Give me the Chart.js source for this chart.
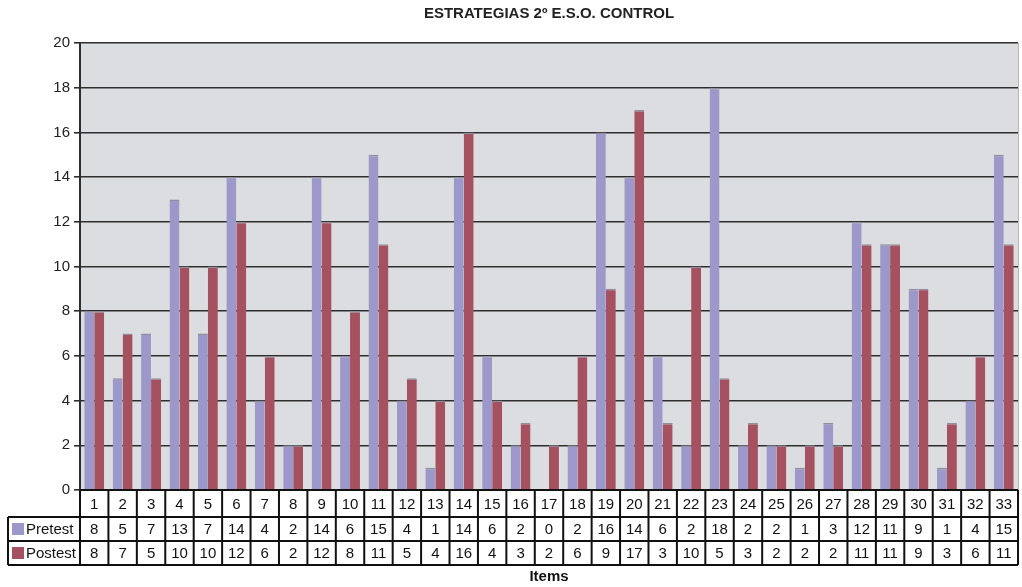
<!DOCTYPE html>
<html>
<head>
<meta charset="utf-8">
<script src="https://cdn.jsdelivr.net/npm/chart.js@4/dist/chart.umd.min.js"></script>
<style>
  html, body { margin: 0; padding: 0; background: #ffffff; }
  #wrap { width: 1022px; height: 587px; }
</style>
</head>
<body>
<div id="wrap"><canvas id="c" width="1022" height="587"></canvas></div>
<script>
const items = ['1','2','3','4','5','6','7','8','9','10','11','12','13','14','15','16','17','18','19','20','21','22','23','24','25','26','27','28','29','30','31','32','33'];
const pretest = [8,5,7,13,7,14,4,2,14,6,15,4,1,14,6,2,0,2,16,14,6,2,18,2,2,1,3,12,11,9,1,4,15];
const postest = [8,7,5,10,10,12,6,2,12,8,11,5,4,16,4,3,2,6,9,17,3,10,5,3,2,2,2,11,11,9,3,6,11];
const yTicks = [0,2,4,6,8,10,12,14,16,18,20];

const titleText = 'ESTRATEGIAS 2º E.S.O. CONTROL';
const xTitle = 'Items';
const seriesNames = ['Pretest', 'Postest'];
const colors = ['#9c98ca', '#a6515f'];

const FONT = '"Liberation Sans", Arial, sans-serif';

// Plot background, title, and the data table under the x axis
const decor = {
  id: 'decor',
  beforeDraw(chart) {
    const { ctx, chartArea: a } = chart;
    ctx.save();
    ctx.fillStyle = '#dcdde0';
    ctx.fillRect(a.left, a.top, a.right - a.left, a.bottom - a.top);
    ctx.strokeStyle = '#b8b8b8';
    ctx.lineWidth = 1;
    ctx.beginPath();
    ctx.moveTo(a.right + 0.5, a.top);
    ctx.lineTo(a.right + 0.5, a.bottom);
    ctx.stroke();
    ctx.restore();
  },
  afterDraw(chart) {
    const { ctx, chartArea: a } = chart;
    const x = chart.scales.x;
    const n = items.length;
    const step = (a.right - a.left) / n;
    const r0 = a.bottom, r1 = r0 + 27, r2 = r1 + 24, r3 = r2 + 24;
    const leftEdge = 8;
    ctx.save();

    // title
    ctx.fillStyle = '#222';
    ctx.font = 'bold 15px ' + FONT;
    ctx.textAlign = 'center';
    ctx.textBaseline = 'middle';
    ctx.fillText(titleText, (a.left + a.right) / 2, 14);

    // table grid
    ctx.strokeStyle = '#111';
    ctx.lineWidth = 2;
    ctx.beginPath();
    ctx.moveTo(a.left, r0); ctx.lineTo(a.right, r0);
    [r1, r2, r3].forEach(y => { ctx.moveTo(leftEdge, y); ctx.lineTo(a.right, y); });
    ctx.moveTo(leftEdge, r1); ctx.lineTo(leftEdge, r3);
    for (let i = 0; i <= n; i++) {
      const xx = a.left + i * step;
      ctx.moveTo(xx, r0); ctx.lineTo(xx, r3);
    }
    ctx.stroke();

    // table text
    ctx.font = '15px ' + FONT;
    ctx.fillStyle = '#111';
    ctx.textAlign = 'center';
    for (let i = 0; i < n; i++) {
      const cx = x.getPixelForValue(i);
      ctx.fillText(items[i], cx, (r0 + r1) / 2 + 1);
      ctx.fillText(String(pretest[i]), cx, (r1 + r2) / 2 + 1);
      ctx.fillText(String(postest[i]), cx, (r2 + r3) / 2 + 1);
    }

    // legend keys in the row headers
    [[r1, r2], [r2, r3]].forEach((rr, k) => {
      const cy = (rr[0] + rr[1]) / 2;
      ctx.fillStyle = colors[k];
      ctx.fillRect(12, cy - 6, 12, 12);
      ctx.fillStyle = '#111';
      ctx.textAlign = 'left';
      ctx.fillText(seriesNames[k], 26, cy + 1);
    });

    // axis title
    ctx.font = 'bold 15px ' + FONT;
    ctx.textAlign = 'center';
    ctx.fillText(xTitle, (a.left + a.right) / 2, 577);
    ctx.restore();
  }
};

new Chart(document.getElementById('c'), {
  type: 'bar',
  data: {
    labels: items,
    datasets: [
      { label: seriesNames[0], data: pretest, backgroundColor: colors[0],
        borderColor: '#8e8e9e', borderWidth: { top: 1.5, left: 0, right: 0, bottom: 0 }, borderSkipped: 'start' },
      { label: seriesNames[1], data: postest, backgroundColor: colors[1],
        borderColor: '#8e8e9e', borderWidth: { top: 1.5, left: 0, right: 0, bottom: 0 }, borderSkipped: 'start' }
    ]
  },
  options: {
    responsive: false,
    animation: false,
    devicePixelRatio: 1,
    layout: { padding: { top: 43, right: 4, bottom: 97, left: 0 } },
    datasets: { bar: { categoryPercentage: 0.7, barPercentage: 1.0 } },
    plugins: {
      legend: { display: false },
      title: { display: false },
      tooltip: { enabled: false }
    },
    scales: {
      x: {
        display: false,
        offset: true,
        grid: { display: false }
      },
      y: {
        min: 0, max: 20,
        afterFit(s) { s.width = 80; },
        afterBuildTicks(s) { s.ticks = yTicks.map(v => ({ value: v })); },
        ticks: { stepSize: 2, color: '#222', font: { family: FONT, size: 15 }, padding: 4 },
        grid: { color: '#2e2e2e', lineWidth: 1.6, tickLength: 6, drawTicks: true },
        border: { display: true, color: '#2e2e2e', width: 2 }
      }
    }
  },
  plugins: [decor]
});
</script>
</body>
</html>
